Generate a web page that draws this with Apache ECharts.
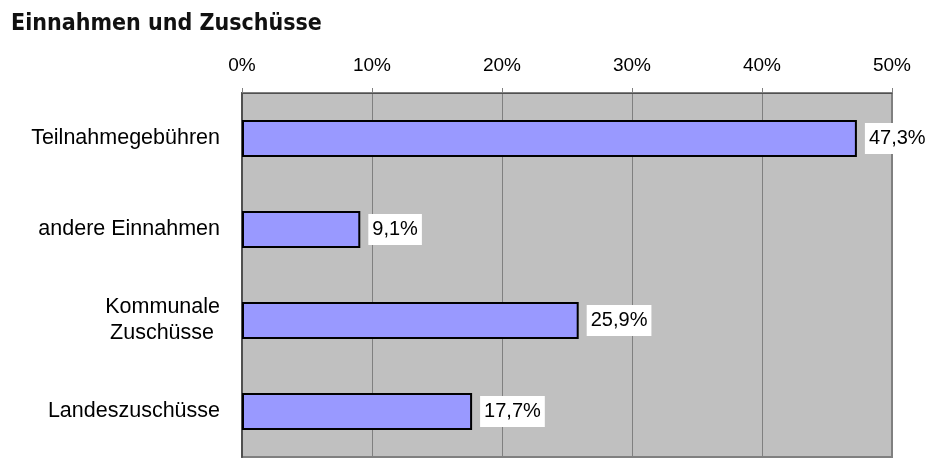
<!DOCTYPE html>
<html>
<head>
<meta charset="utf-8">
<script src="https://cdn.jsdelivr.net/npm/echarts@6/dist/echarts.min.js"></script>
<style>
  html, body { margin: 0; padding: 0; background: #fff; }
  #main { width: 933px; height: 458px; }
</style>
</head>
<body>
<div id="main"></div>
<script>
// Einnahmen und Zuschüsse, Anteile in Prozent
var categories = ['Teilnahmegebühren', 'andere Einnahmen', 'Kommunale\nZuschüsse ', 'Landeszuschüsse']
var shares = [47.3, 9.1, 25.9, 17.7]
var tickMax = 50
var tickStep = 10

var chart = echarts.init(document.getElementById('main'))

var option = {
    animation: false,
    title: {
        text: 'Einnahmen und Zuschüsse',
        left: 6,
        top: 8,
        textStyle: {
            fontFamily: '"Liberation Sans Narrow", "DejaVu Sans Condensed", sans-serif',
            fontWeight: 'bold',
            fontSize: 23,
            color: '#111'
        }
    },
    grid: {
        left: 242,
        right: 41,
        top: 93,
        bottom: 1,
        show: true,
        backgroundColor: '#c0c0c0',
        borderColor: '#808080',
        borderWidth: 2
    },
    xAxis: {
        type: 'value',
        position: 'top',
        min: 0,
        max: tickMax,
        interval: tickStep,
        axisLine: { show: true, lineStyle: { color: '#505050', width: 1 } },
        axisTick: { show: true, length: 5, lineStyle: { color: '#808080' } },
        splitLine: { show: true, lineStyle: { color: '#808080', width: 1 } },
        axisLabel: {
            margin: 18,
            formatter: '{value}%',
            color: '#000',
            fontSize: 19,
            fontFamily: '"Liberation Sans", Arial, sans-serif'
        }
    },
    yAxis: {
        type: 'category',
        data: categories,
        inverse: true,
        axisLine: { show: true, lineStyle: { color: '#505050', width: 2 } },
        axisTick: { show: false },
        axisLabel: {
            margin: 22,
            color: '#000',
            fontSize: 21.5,
            lineHeight: 26,
            fontFamily: '"Liberation Sans", Arial, sans-serif'
        }
    },
    series: [
        {
            type: 'bar',
            data: shares,
            barWidth: 37,
            itemStyle: {
                color: '#9999ff',
                borderColor: '#000',
                borderWidth: 2
            },
            label: {
                show: true,
                position: 'right',
                distance: 8,
                color: '#000',
                fontSize: 20,
                fontFamily: '"Liberation Sans", Arial, sans-serif',
                backgroundColor: '#fff',
                padding: [6, 4, 5, 4],
                formatter: function (p) {
                    return p.value.toFixed(1).replace('.', ',') + '%'
                }
            }
        }
    ]
}

chart.setOption(option)
</script>
</body>
</html>
